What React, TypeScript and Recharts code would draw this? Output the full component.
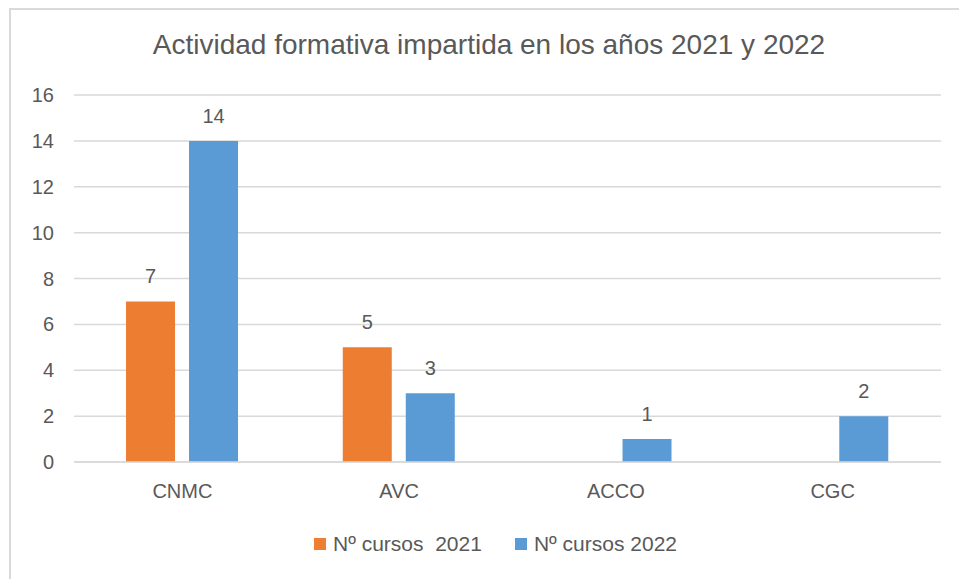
import { BarChart, Bar, XAxis, YAxis, CartesianGrid, LabelList, Legend } from 'recharts';

const categories = ['CNMC', 'AVC', 'ACCO', 'CGC'];
const cursos2021: (number | null)[] = [7, 5, null, null];
const cursos2022: number[] = [14, 3, 1, 2];
const yTicks = [0, 2, 4, 6, 8, 10, 12, 14, 16];
const seriesNames = ['Nº cursos  2021', 'Nº cursos 2022'];

const ORANGE = '#ED7D31';
const BLUE = '#5B9BD5';
const TEXT = '#595959';
const GRID = '#D9D9D9';
const FONT = '"Liberation Sans", Arial, sans-serif';

const data = categories.map((c, i) => ({
  name: c,
  c2021: cursos2021[i],
  c2022: cursos2022[i],
}));

function LegendContent() {
  const items = [
    { label: seriesNames[0], color: ORANGE },
    { label: seriesNames[1], color: BLUE },
  ];
  return (
    <div style={{ display: 'flex', justifyContent: 'center', gap: 33, fontFamily: FONT, fontSize: 21, color: TEXT }}>
      {items.map((it) => (
        <div key={it.label} style={{ display: 'flex', alignItems: 'center' }}>
          <span style={{ width: 12, height: 12, background: it.color, marginRight: 7, display: 'inline-block' }} />
          <span style={{ whiteSpace: 'pre' }}>{it.label}</span>
        </div>
      ))}
    </div>
  );
}

export default function App() {
  return (
    <div style={{ position: 'absolute', left: 0, top: 0, width: 959, height: 579, overflow: 'hidden', background: '#fff' }}>
      {/* chart frame, cut off on the right and bottom like the source */}
      <div style={{ position: 'absolute', left: 9, top: 8, width: 990, height: 620, border: `2px solid ${GRID}` }} />
      <div
        style={{
          position: 'absolute',
          left: 0,
          top: 29,
          width: 978,
          textAlign: 'center',
          fontFamily: FONT,
          fontSize: 28,
          lineHeight: '32px',
          color: TEXT,
        }}
      >
        Actividad formativa impartida en los años 2021 y 2022
      </div>
      <div style={{ position: 'absolute', left: 0, top: 0 }}>
        <BarChart
          width={959}
          height={579}
          data={data}
          margin={{ top: 95, right: 18, bottom: 77, left: 14 }}
          barCategoryGap="24%"
          barGap={14}
        >
          <CartesianGrid vertical={false} stroke={GRID} strokeWidth={1.5} />
          <XAxis
            dataKey="name"
            height={40}
            axisLine={{ stroke: GRID, strokeWidth: 1.5 }}
            tickLine={false}
            tickSize={0}
            tickMargin={22}
            tick={{ fill: TEXT, fontSize: 20, fontFamily: FONT }}
          />
          <YAxis
            width={60}
            domain={[0, 16]}
            ticks={yTicks}
            axisLine={false}
            tickLine={false}
            tickSize={0}
            tickMargin={20}
            tick={{ fill: TEXT, fontSize: 20, fontFamily: FONT }}
          />
          <Legend
            verticalAlign="middle"
            align="center"
            wrapperStyle={{ top: 532, left: 16, width: 959 }}
            content={<LegendContent />}
          />
          <Bar dataKey="c2021" name={seriesNames[0]} fill={ORANGE} isAnimationActive={false}>
            <LabelList dataKey="c2021" position="top" offset={18} fill={TEXT} fontSize={20} fontFamily={FONT} />
          </Bar>
          <Bar dataKey="c2022" name={seriesNames[1]} fill={BLUE} isAnimationActive={false}>
            <LabelList dataKey="c2022" position="top" offset={18} fill={TEXT} fontSize={20} fontFamily={FONT} />
          </Bar>
        </BarChart>
      </div>
    </div>
  );
}
